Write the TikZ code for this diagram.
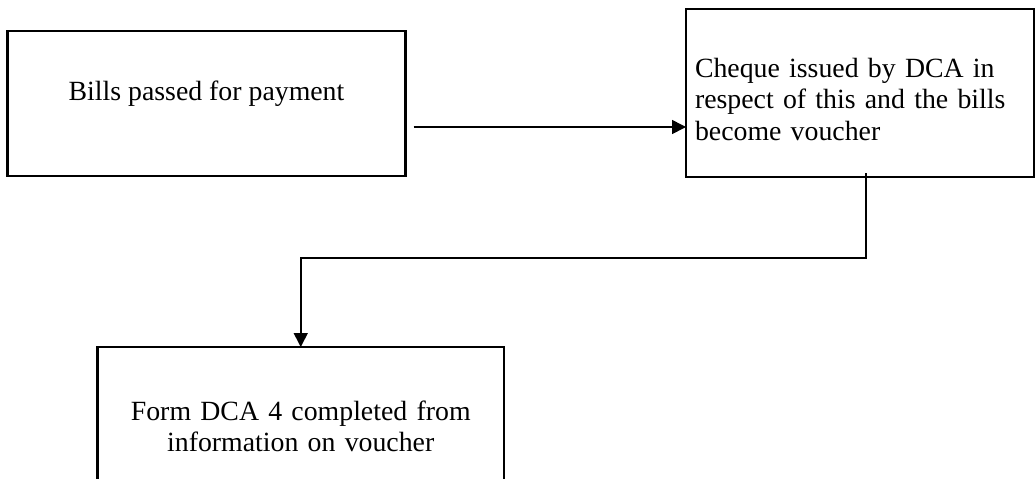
\documentclass[tikz,border=0pt]{standalone}
\usepackage{fontspec}
\setmainfont{Liberation Serif}
\usetikzlibrary{arrows.meta}
\begin{document}
\begin{tikzpicture}[x=0.5pt,y=-0.5pt,
  box/.style={draw=black, line width=1.1pt, fill=none, inner sep=0pt, outer sep=0pt},
  txt/.style={inner sep=0pt, outer sep=0pt, font=\fontsize{13.9}{15.9}\selectfont},
  conn/.style={draw=black, line width=0.8pt, -{Triangle[length=7pt,width=7pt]}}]
  \useasboundingbox (0,0) rectangle (1036,478);
  \clip (0,0) rectangle (1036,478);

  % process boxes
  \node[box, minimum width=199pt, minimum height=72.5pt] (b1) at (206.5,103.5) {};
  \node[box, minimum width=174pt, minimum height=84pt] (b2) at (860,93) {};
  \node[box, minimum width=203.25pt, minimum height=100pt] (b3) at (300.75,447) {};

  % box texts
  \node[txt, anchor=base] (t1) at (206.5,100) {Bills passed for payment};
  \node[txt, anchor=base west, text width=170pt, align=left] (t2) at (695,77)
    {Cheque issued by DCA in\\respect of this and the bills\\become voucher};
  \node[txt, anchor=base, text width=200pt, align=center] (t3) at (300.75,420)
    {Form DCA 4 completed from\\information on voucher};

  % connectors
  \draw[conn] ([shift={(8,23.5)}]b1.east) -- ([shift={(0,34)}]b2.west);
  \draw[conn] ([shift={(6,-4)}]b2.south) -- ++(0,85) -| (b3.north);
\end{tikzpicture}
\end{document}
